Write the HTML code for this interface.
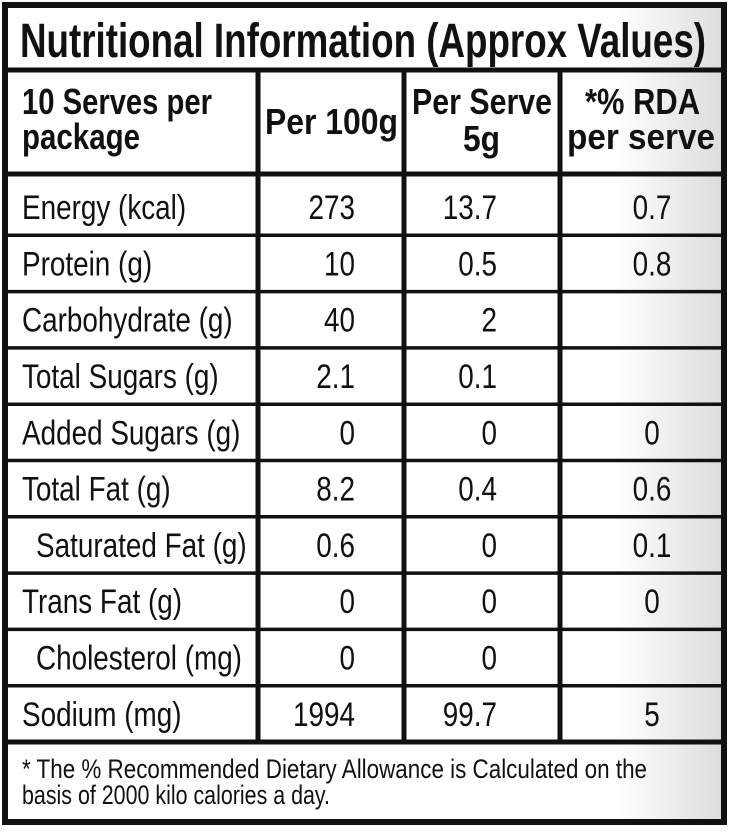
<!DOCTYPE html>
<html><head><meta charset="utf-8"><style>
html,body{margin:0;padding:0;background:#fff;}
svg{display:block;font-family:"Liberation Sans",sans-serif;}
</style></head><body>
<svg width="734" height="832" viewBox="0 0 734 832">
<defs><linearGradient id="g" x1="0" x2="1"><stop offset="0.85" stop-color="#fff"/><stop offset="1" stop-color="#dcdcdc"/></linearGradient></defs>
<rect x="5" y="5" width="719" height="817" fill="url(#g)" stroke="#111" stroke-width="6"/>
<g stroke="#111" stroke-width="5">
<line x1="5" y1="70" x2="724" y2="70"/>
<line x1="5" y1="174" x2="724" y2="174"/>
<line x1="258" y1="70" x2="258" y2="742"/>
<line x1="404" y1="70" x2="404" y2="742"/>
<line x1="560" y1="70" x2="560" y2="742"/>
</g>
<g id="rowlines" stroke="#111" stroke-width="3.5"></g>
<text x="20" y="57" font-size="48" font-weight="bold" textLength="686" lengthAdjust="spacingAndGlyphs" fill="#111">Nutritional Information (Approx Values)</text>
<g font-weight="bold" font-size="36" fill="#111">
<text x="22" y="114" textLength="190" lengthAdjust="spacingAndGlyphs">10 Serves per</text>
<text x="22" y="149" textLength="118" lengthAdjust="spacingAndGlyphs">package</text>
<text x="265" y="134" textLength="133" lengthAdjust="spacingAndGlyphs">Per 100g</text>
<text x="412" y="114" textLength="140" lengthAdjust="spacingAndGlyphs">Per Serve</text>
<text x="463" y="151" textLength="37" lengthAdjust="spacingAndGlyphs">5g</text>
<text x="585" y="114" textLength="115" lengthAdjust="spacingAndGlyphs">*% RDA</text>
<text x="567" y="149" textLength="148" lengthAdjust="spacingAndGlyphs">per serve</text>
</g>
<g id="rows" font-size="34" fill="#111"></g>
<g font-size="27" fill="#111">
<text x="22" y="778" textLength="625" lengthAdjust="spacingAndGlyphs">* The % Recommended Dietary Allowance is Calculated on the</text>
<text x="22" y="804" textLength="308" lengthAdjust="spacingAndGlyphs">basis of 2000 kilo calories a day.</text>
</g>
</svg>
<script>
const labels=["Energy (kcal)","Protein (g)","Carbohydrate (g)","Total Sugars (g)","Added Sugars (g)","Total Fat (g)","Saturated Fat (g)","Trans Fat (g)","Cholesterol (mg)","Sodium (mg)"];
const per100=["273","10","40","2.1","0","8.2","0.6","0","0","1994"];
const perServe=["13.7","0.5","2","0.1","0","0.4","0","0","0","99.7"];
const rda=["0.7","0.8","","","0","0.6","0.1","0","","5"];
const indent=[0,0,0,0,0,0,1,0,1,0];
const NS="http://www.w3.org/2000/svg";
const top0=179,rh=56.3;
const g=document.getElementById('rows'),lg=document.getElementById('rowlines');
function t(x,y,s,anchor,name){const e=document.createElementNS(NS,'text');e.setAttribute('x',x);e.setAttribute('y',y);if(anchor)e.setAttribute('text-anchor',anchor);e.textContent=s;
e.setAttribute('transform','translate('+x+' 0) scale(0.82 1) translate('+(-x)+' 0)');


g.appendChild(e);}
labels.forEach((l,i)=>{
 const y=top0+rh*i+rh/2+12;
 t(indent[i]?36:22,y,l,null,'row-label');
 t(355,y,per100[i],'end','per-100g-value');
 t(497,y,perServe[i],'end','per-serve-value');
 if(rda[i])t(652,y,rda[i],'middle','rda-value');
 if(i>0){const ln=document.createElementNS(NS,'line');const yy=top0+rh*i;ln.setAttribute('x1',5);ln.setAttribute('x2',724);ln.setAttribute('y1',yy);ln.setAttribute('y2',yy);
 
 
 lg.appendChild(ln);}
});
const last=document.createElementNS(NS,'line');last.setAttribute('x1',5);last.setAttribute('x2',724);last.setAttribute('y1',top0+rh*10);last.setAttribute('y2',top0+rh*10);last.setAttribute('stroke-width','5');


lg.appendChild(last);
</script>
</body></html>
